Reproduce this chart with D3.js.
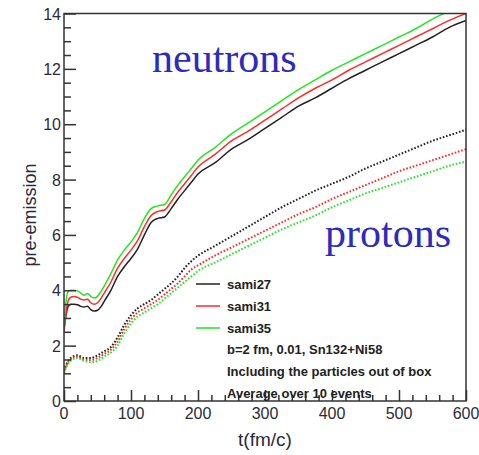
<!DOCTYPE html>
<html>
<head>
<meta charset="utf-8">
<script src="https://cdn.jsdelivr.net/npm/d3@7"></script>
<style>
  body { margin: 0; background: #fff; }
</style>
</head>
<body>
<div id="chart"></div>
<script>
document.addEventListener("DOMContentLoaded", function() {

  // time points (fm/c)
  const tN = [0, 3, 6, 10, 15, 20, 25, 30, 35, 40, 45, 50, 55, 60, 70, 80, 90, 100, 110, 120, 130, 140, 150,
              160, 170, 180, 190, 200, 225, 250, 275, 300, 325, 350, 375, 400, 425, 450, 475, 500, 525, 550, 575, 600];

  // neutrons (solid)
  const n27 = [2.6, 3.1, 3.4, 3.5, 3.5, 3.48, 3.42, 3.4, 3.42, 3.3, 3.25, 3.28, 3.4, 3.6, 4.0, 4.5, 4.85, 5.15, 5.5, 6.0, 6.45, 6.6, 6.65,
               6.95, 7.3, 7.6, 7.9, 8.2, 8.6, 9.1, 9.45, 9.85, 10.25, 10.65, 10.95, 11.3, 11.65, 11.95, 12.25, 12.55, 12.85, 13.15, 13.5, 13.75];
  const n31 = [2.5, 3.2, 3.6, 3.75, 3.78, 3.75, 3.68, 3.65, 3.68, 3.55, 3.5, 3.55, 3.7, 3.9, 4.3, 4.8, 5.15, 5.45, 5.8, 6.3, 6.7, 6.85, 6.9,
               7.2, 7.55, 7.85, 8.15, 8.45, 8.9, 9.4, 9.75, 10.15, 10.55, 10.95, 11.3, 11.6, 11.95, 12.25, 12.55, 12.85, 13.15, 13.45, 13.75, 14.0];
  const n35 = [2.8, 3.6, 3.95, 4.0, 4.0, 3.98, 3.9, 3.82, 3.88, 3.78, 3.72, 3.78, 3.95, 4.15, 4.6, 5.1, 5.45, 5.75, 6.1, 6.6, 6.95, 7.05, 7.1,
               7.45, 7.8, 8.1, 8.4, 8.7, 9.15, 9.65, 10.05, 10.45, 10.85, 11.25, 11.6, 11.95, 12.25, 12.55, 12.85, 13.15, 13.45, 13.8, 14.1, 14.45];

  const tP = [0, 5, 10, 20, 30, 40, 50, 60, 70, 80, 90, 100, 110, 120, 130, 140, 150, 160, 170, 180, 190, 200,
              225, 250, 275, 300, 325, 350, 375, 400, 425, 450, 475, 500, 525, 550, 575, 600];

  // protons (dotted)
  const p27 = [1.1, 1.4, 1.55, 1.65, 1.55, 1.55, 1.65, 1.8, 1.95, 2.3, 2.75, 3.1, 3.35, 3.5, 3.65, 3.85, 4.05, 4.25, 4.5, 4.8, 5.05, 5.25,
               5.6, 5.95, 6.3, 6.65, 7.0, 7.3, 7.6, 7.85, 8.1, 8.4, 8.65, 8.9, 9.15, 9.4, 9.6, 9.8];
  const p31 = [1.05, 1.35, 1.5, 1.6, 1.5, 1.48, 1.55, 1.7, 1.85, 2.15, 2.6, 2.95, 3.2, 3.35, 3.5, 3.65, 3.85, 4.05, 4.25, 4.5, 4.75, 4.9,
               5.25, 5.55, 5.85, 6.15, 6.45, 6.75, 7.0, 7.3, 7.55, 7.8, 8.05, 8.3, 8.5, 8.7, 8.9, 9.1];
  const p35 = [1.0, 1.3, 1.45, 1.55, 1.45, 1.4, 1.45, 1.6, 1.75, 2.0, 2.45, 2.8, 3.05, 3.2, 3.35, 3.5, 3.7, 3.9, 4.1, 4.3, 4.5, 4.7,
               5.0, 5.3, 5.6, 5.9, 6.2, 6.45, 6.7, 7.0, 7.25, 7.5, 7.7, 7.9, 8.1, 8.3, 8.5, 8.65];

  const seriesNames = ["sami27", "sami31", "sami35"];
  const seriesColors = ["#222222", "#ff2a2a", "#22e622"];
  const noteLines = ["b=2 fm, 0.01, Sn132+Ni58", "Including the particles out of box", "Average over 10 events"];

  const xTicks = [0, 100, 200, 300, 400, 500, 600];
  const yTicks = [0, 2, 4, 6, 8, 10, 12, 14];

  const width = 479, height = 455;
  const x0 = 64, x1 = 466, y0 = 401, y1 = 13.5;
  const sans = "'Liberation Sans', Arial, sans-serif";
  const serif = "'Liberation Serif', 'Times New Roman', serif";

  const svg = d3.select("#chart").append("svg")
                .attr("width", width)
                .attr("height", height)
                .style("font-family", sans);

  const x = d3.scaleLinear().domain([0, 600]).range([x0, x1]);
  const y = d3.scaleLinear().domain([0, 14]).range([y0, y1]);

  svg.append("defs").append("clipPath").attr("id", "clip")
     .append("rect").attr("x", x0).attr("y", y1).attr("width", x1 - x0).attr("height", y0 - y1);

  const plot = svg.append("g").attr("clip-path", "url(#clip)");

  const line = d3.line().x(d => x(d[0])).y(d => y(d[1])).curve(d3.curveMonotoneX);

  [n27, n31, n35].forEach((s, i) => {
    plot.append("path")
        .attr("d", line(tN.map((t, j) => [t, s[j]])))
        .attr("fill", "none")
        .attr("stroke", seriesColors[i])
        .attr("stroke-width", 1.5);
  });

  [p27, p31, p35].forEach((s, i) => {
    plot.append("path")
        .attr("d", line(tP.map((t, j) => [t, s[j]])))
        .attr("fill", "none")
        .attr("stroke", seriesColors[i])
        .attr("stroke-width", 2)
        .attr("stroke-dasharray", "1.6,1.8");
  });

  // frame
  svg.append("rect")
     .attr("x", x0).attr("y", y1)
     .attr("width", x1 - x0).attr("height", y0 - y1)
     .attr("fill", "none")
     .attr("stroke", "#333")
     .attr("stroke-width", 1.5);

  // ticks (inward)
  const xAxis = d3.axisBottom(x).tickValues(d3.range(0, 601, 20)).tickSize(-6).tickFormat("");
  svg.append("g").attr("transform", `translate(0,${y0})`).call(xAxis)
     .call(g => g.select(".domain").remove())
     .call(g => g.selectAll(".tick line").attr("stroke", "#333").attr("stroke-width", 1.5)
                 .filter(d => d % 100 === 0).attr("y2", -11));

  const yAxis = d3.axisLeft(y).tickValues(d3.range(0, 14.01, 0.5)).tickSize(-7).tickFormat("");
  svg.append("g").attr("transform", `translate(${x0},0)`).call(yAxis)
     .call(g => g.select(".domain").remove())
     .call(g => g.selectAll(".tick line").attr("stroke", "#333").attr("stroke-width", 1.5)
                 .filter(d => d % 2 === 0).attr("x2", 12));

  // tick labels
  svg.append("g").selectAll("text").data(xTicks).enter().append("text")
     .attr("x", d => x(d)).attr("y", 419)
     .attr("text-anchor", "middle")
     .attr("font-size", 16).attr("fill", "#2a2a3a")
     .text(d => d);

  svg.append("g").selectAll("text").data(yTicks).enter().append("text")
     .attr("x", 61).attr("y", d => y(d) + 6)
     .attr("text-anchor", "end")
     .attr("font-size", 16).attr("fill", "#2a2a3a")
     .text(d => d);

  // axis titles
  svg.append("text")
     .attr("x", 265).attr("y", 446)
     .attr("text-anchor", "middle")
     .attr("font-size", 19).attr("fill", "#2a2a3a")
     .text("t(fm/c)");

  svg.append("text")
     .attr("transform", "translate(36,215) rotate(-90)")
     .attr("text-anchor", "middle")
     .attr("font-size", 18).attr("fill", "#2a2a3a")
     .text("pre-emission");

  // big labels
  svg.append("text")
     .attr("x", 152).attr("y", 72)
     .style("font-family", serif)
     .attr("font-size", 42).attr("fill", "#2b2bbd")
     .text("neutrons");

  svg.append("text")
     .attr("x", 325).attr("y", 247)
     .style("font-family", serif)
     .attr("font-size", 42).attr("fill", "#2b2bbd")
     .text("protons");

  // legend
  const legend = svg.selectAll(".legend")
                    .data(seriesNames)
                    .enter().append("g")
                    .attr("class", "legend")
                    .attr("transform", (d, i) => `translate(0,${284 + i * 22})`);

  legend.append("line")
        .attr("x1", 196).attr("x2", 220)
        .attr("stroke", (d, i) => seriesColors[i])
        .attr("stroke-width", 1.5);

  legend.append("text")
        .attr("x", 227).attr("y", 5)
        .attr("font-size", 13).attr("font-weight", "bold").attr("fill", "#222")
        .text(d => d);

  svg.append("g").selectAll("text").data(noteLines).enter().append("text")
     .attr("x", 227).attr("y", (d, i) => 354 + i * 22)
     .attr("font-size", 13).attr("font-weight", "bold").attr("fill", "#222")
     .text(d => d);
});
</script>
</body>
</html>
